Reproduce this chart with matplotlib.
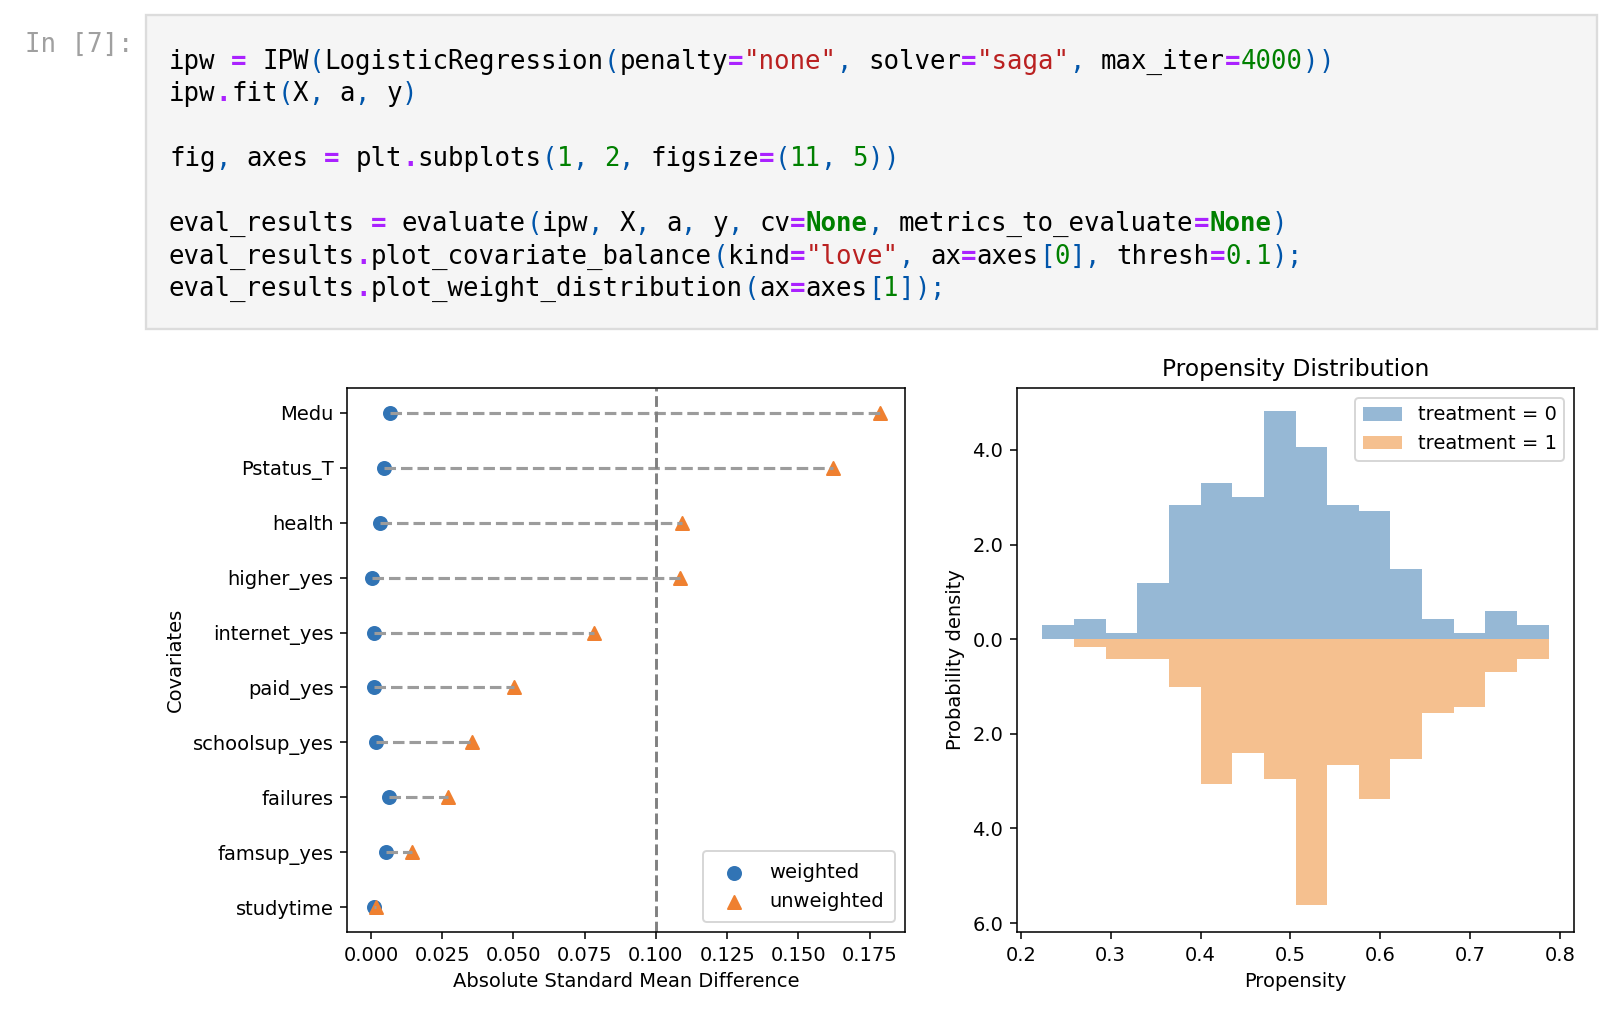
import re
import numpy as np
import matplotlib.pyplot as plt
from matplotlib.patches import Rectangle
from matplotlib.ticker import FuncFormatter

# 画布尺寸（像素）
W, H = 1624, 1010
DPI = 140

# 左图：协变量平衡 (love plot)
covariates = ["Medu", "Pstatus_T", "health", "higher_yes", "internet_yes",
              "paid_yes", "schoolsup_yes", "failures", "famsup_yes", "studytime"]
weighted = [0.0068, 0.0047, 0.0032, 0.0005, 0.0010, 0.0010, 0.0018, 0.0065, 0.0054, 0.0010]
unweighted = [0.1785, 0.1620, 0.1090, 0.1085, 0.0783, 0.0502, 0.0356, 0.0270, 0.0144, 0.0018]
thresh = 0.1

# 右图：倾向得分分布 (密度直方图)
bin_edges = [0.224, 0.2592, 0.2944, 0.3296, 0.3648, 0.4, 0.4352, 0.4704, 0.5056,
             0.5408, 0.576, 0.6112, 0.6464, 0.6816, 0.7168, 0.752, 0.7872]
density_t0 = [0.30, 0.42, 0.13, 1.18, 2.84, 3.30, 3.01, 4.82, 4.06, 2.84, 2.71, 1.48,
              0.42, 0.13, 0.59, 0.30]
density_t1 = [0.00, 0.16, 0.42, 0.42, 1.01, 3.07, 2.41, 2.95, 5.61, 2.66, 3.38, 2.53,
              1.56, 1.43, 0.70, 0.42]

# 代码单元格内容
prompt = "In [7]:"
code_lines = [
    'ipw = IPW(LogisticRegression(penalty="none", solver="saga", max_iter=4000))',
    'ipw.fit(X, a, y)',
    '',
    'fig, axes = plt.subplots(1, 2, figsize=(11, 5))',
    '',
    'eval_results = evaluate(ipw, X, a, y, cv=None, metrics_to_evaluate=None)',
    'eval_results.plot_covariate_balance(kind="love", ax=axes[0], thresh=0.1);',
    'eval_results.plot_weight_distribution(ax=axes[1]);',
]

fig = plt.figure(figsize=(W / DPI, H / DPI), dpi=DPI)


def px(x, y):
    return x / W, 1 - y / H


# ---- 代码单元格 ----
x0, y0 = px(146, 329)
fig.add_artist(Rectangle((x0, y0), (1597 - 146) / W, (329 - 15) / H,
                         transform=fig.transFigure, facecolor='#f5f5f5',
                         edgecolor='#dcdcdc', linewidth=1.2))

char_w = 15.53  # 每个字符宽度（像素）
code_fs = char_w / 0.602 / (DPI / 72)
mono = 'DejaVu Sans Mono'

fig.text(*px(25, 52), prompt, fontfamily=mono, fontsize=code_fs, color='#a0a0a0',
         ha='left', va='baseline')

token_re = re.compile(r'"[^"]*"|\d+\.\d+|\d+|None|\w+|\s+|.')
for i, line in enumerate(code_lines):
    base = 68.5 + i * 32.5
    col = 0
    for tok in token_re.findall(line):
        color, weight = '#000000', 'normal'
        if tok.startswith('"'):
            color = '#ba2121'
        elif tok == 'None':
            color, weight = '#008000', 'bold'
        elif tok[0].isdigit():
            color = '#008000'
        elif tok in ('=', '.'):
            color, weight = '#aa22ff', 'bold'
        elif tok in '()[],;':
            color = '#0055aa'
        if not tok.isspace():
            fig.text(*px(169 + col * char_w, base), tok, fontfamily=mono,
                     fontsize=code_fs, color=color, fontweight=weight,
                     ha='left', va='baseline')
        col += len(tok)

# ---- 左图 ----
ax1 = fig.add_axes([347 / W, 1 - 932 / H, (905 - 347) / W, (932 - 388) / H])
ypos = np.arange(len(covariates))
for y, w, u in zip(ypos, weighted, unweighted):
    ax1.plot([w, u], [y, y], '--', color='#9c9c9c', lw=1.6)
ax1.scatter(weighted, ypos, s=45, color='#3174b5', marker='o', label='weighted', zorder=1)
ax1.scatter(unweighted, ypos, s=45, color='#ef8030', marker='^', label='unweighted', zorder=1)
ax1.axvline(thresh, color='#808080', linestyle='--', lw=1.5)
ax1.set_yticks(ypos)
ax1.set_yticklabels(covariates)
ax1.invert_yaxis()
ax1.set_xticks([0.0, 0.025, 0.05, 0.075, 0.1, 0.125, 0.15, 0.175])
ax1.xaxis.set_major_formatter(FuncFormatter(lambda v, p: f"{v:.3f}"))
ax1.set_xlabel('Absolute Standard Mean Difference')
ax1.set_ylabel('Covariates')
ax1.legend(loc='lower right', borderpad=0.6)

# ---- 右图 ----
ax2 = fig.add_axes([1017 / W, 1 - 932 / H, (1574 - 1017) / W, (932 - 388) / H])
edges = np.array(bin_edges)
widths = np.diff(edges)
ax2.bar(edges[:-1], density_t0, width=widths, align='edge', color='#96b8d5',
        linewidth=0, label='treatment = 0')
ax2.bar(edges[:-1], -np.array(density_t1), width=widths, align='edge', color='#f5c08f',
        linewidth=0, label='treatment = 1')
ax2.set_ylim(-6.19, 5.31)
ax2.set_yticks([-6, -4, -2, 0, 2, 4])
ax2.yaxis.set_major_formatter(FuncFormatter(lambda v, p: f"{abs(v):.1f}"))
ax2.set_xticks([0.2, 0.3, 0.4, 0.5, 0.6, 0.7, 0.8])
ax2.xaxis.set_major_formatter(FuncFormatter(lambda v, p: f"{v:.1f}"))
ax2.set_title('Propensity Distribution')
ax2.set_xlabel('Propensity')
ax2.set_ylabel('Probability density')
ax2.legend(loc='upper right')

fig.savefig('out.png', dpi=DPI)
